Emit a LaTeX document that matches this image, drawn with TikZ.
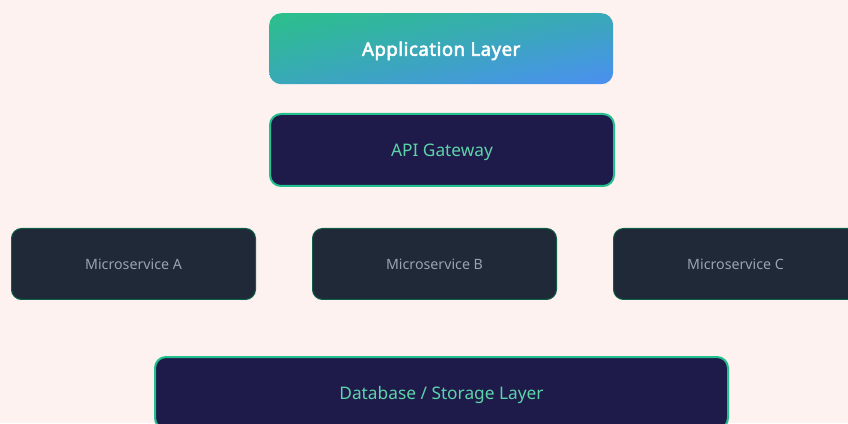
\documentclass[tikz,border=0pt]{standalone}
\usepackage{fontspec}
\setmainfont{Noto Sans}
\newfontfamily\heavyfont{Noto Sans}[FakeBold=3,LetterSpace=3]
\usetikzlibrary{shadings}
\definecolor{bgpink}{HTML}{FEF2F1}
\definecolor{gradgreen}{HTML}{2BC08A}
\definecolor{gradblue}{HTML}{4B8FF2}
\definecolor{gradmid}{HTML}{39A8B8}
\definecolor{navyfill}{HTML}{1E1B4B}
\definecolor{slatefill}{HTML}{1F2937}
\definecolor{edgegreen}{HTML}{22C08C}
\definecolor{darkedge}{HTML}{0E5E48}
\definecolor{minttext}{HTML}{5ED3A8}
\definecolor{graytext}{HTML}{9AA3AF}

\begin{document}
\begin{tikzpicture}[x=1pt,y=1pt,
    every node/.style={anchor=north west,inner sep=0pt,text depth=0pt},
    applayer/.style={rounded corners=12pt,text=white,
        upper left=gradgreen,lower right=gradblue,
        upper right=gradmid,lower left=gradmid,
        minimum width=344pt,minimum height=71pt,
        font=\fontsize{18.5}{21}\heavyfont},
    layerbox/.style={draw=edgegreen,line width=2pt,fill=navyfill,
        rounded corners=11pt,text=minttext,minimum height=72pt,
        font=\fontsize{17.3}{20}\selectfont},
    servicebox/.style={draw=darkedge,line width=1pt,fill=slatefill,
        rounded corners=10pt,text=graytext,
        minimum width=244pt,minimum height=71pt,
        font=\fontsize{14.2}{17}\selectfont}]

    % page and background
    \useasboundingbox (0,0) rectangle (848,423);
    \clip (0,0) rectangle (848,423);
    \fill[bgpink] (0,0) rectangle (848,423);

    % top layers
    \node[applayer,shade] (app) at (269,410) {Application Layer};
    \node[layerbox,minimum width=344pt] (gateway) at (269,310) {API Gateway};

    % services
    \node[servicebox] (svcA) at (11,195) {Microservice A};
    \node[servicebox] (svcB) at (312,195) {Microservice B};
    \node[servicebox] (svcC) at (613,195) {Microservice C};

    % storage
    \node[layerbox,minimum width=573pt] (storage) at (154,67) {Database / Storage Layer};

\end{tikzpicture}
\end{document}
